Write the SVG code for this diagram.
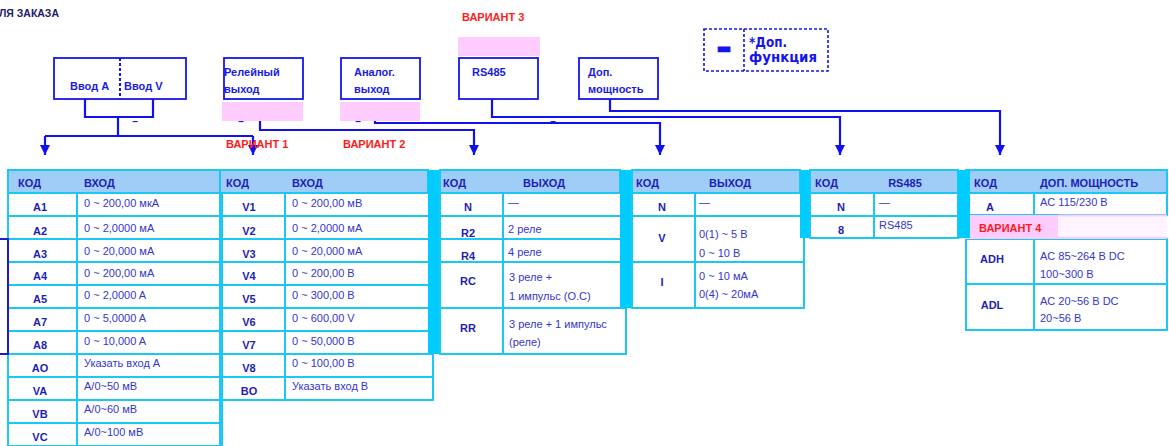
<svg xmlns="http://www.w3.org/2000/svg" width="1169" height="446" viewBox="0 0 1169 446">
<defs>
<marker id="arr" viewBox="0 0 10 10" refX="10" refY="5" markerWidth="10" markerHeight="10" orient="auto" markerUnits="userSpaceOnUse"><path d="M0,0 L10,5 L0,10 z" fill="#1010F0"/></marker>
<style>
.box{fill:none;stroke:#1414F0;stroke-width:1.8}
.dbox{fill:none;stroke:#1414F0;stroke-width:1.6;stroke-dasharray:3 2}
.lbl{font-family:"Liberation Sans",Arial,sans-serif;font-size:11px;font-weight:bold;fill:#1A1AE8}
.var{font-family:"Liberation Sans",Arial,sans-serif;font-size:11px;font-weight:bold;fill:#FF1A1A}
.pink{fill:#FFCCFF}
.conn{fill:none;stroke:#1010F0;stroke-width:2.2}
.cell{fill:#fff;stroke:#19C8F5;stroke-width:2}
.hdr{fill:#A0CCF8;stroke:#19C8F5;stroke-width:2}
.bar{fill:#00CCFF}
.ht{font-family:"Liberation Sans",Arial,sans-serif;font-size:11px;font-weight:bold;fill:#1E1EB4}
.code{font-family:"Liberation Sans",Arial,sans-serif;font-size:11px;font-weight:bold;fill:#1E1EB4;text-anchor:middle}
.val{font-family:"Liberation Sans",Arial,sans-serif;font-size:11px;fill:#3535D0}
.dash{font-family:"Liberation Sans",Arial,sans-serif;font-size:10px;font-weight:bold;fill:#1A1AE8;text-anchor:middle}
</style>
</defs>
<rect width="1169" height="446" fill="#fff"/>
<text x="-1" y="17" font-family="Liberation Sans, Arial, sans-serif" font-size="11" font-weight="bold" fill="#20206A" textLength="60" lengthAdjust="spacingAndGlyphs">ЛЯ ЗАКАЗА</text>

<g id="node-input">
<rect class="box" x="54" y="58" width="132" height="41"/>
<line x1="120" y1="58" x2="120" y2="99" stroke="#1414F0" stroke-width="2" stroke-dasharray="3 2"/>
<text class="lbl" x="70" y="90">Ввод A</text>
<text class="lbl" x="124" y="90">Ввод V</text>
</g>
<g id="node-relay">
<rect class="box" x="224" y="58" width="79" height="41"/>
<text class="lbl" x="224" y="76">Релейный</text>
<text class="lbl" x="224" y="93">выход</text>
<rect class="pink" x="222" y="102" width="81" height="19"/>
</g>
<g id="node-analog">
<rect class="box" x="341" y="58" width="79" height="41"/>
<text class="lbl" x="354" y="76">Аналог.</text>
<text class="lbl" x="354" y="93">выход</text>
<rect class="pink" x="340" y="102" width="80" height="19"/>
</g>
<g id="node-rs485">
<text class="var" x="462" y="21">ВАРИАНТ 3</text>
<rect class="pink" x="458" y="37" width="82" height="19"/>
<rect class="box" x="459" y="58" width="79" height="41"/>
<text class="lbl" x="472" y="76">RS485</text>
</g>
<g id="node-power">
<rect class="box" x="579" y="58" width="79" height="41"/>
<text class="lbl" x="588" y="76">Доп.</text>
<text class="lbl" x="588" y="93">мощность</text>
</g>
<g id="node-legend">
<rect class="dbox" x="704" y="29" width="124" height="42"/>
<line x1="744" y1="29" x2="744" y2="71" stroke="#1414F0" stroke-width="1.6" stroke-dasharray="3 2"/>
<text x="724" y="57" text-anchor="middle" font-family="DejaVu Sans, sans-serif" font-size="26" font-weight="bold" fill="#1414F0" stroke="#1414F0" stroke-width="2.5">–</text>
<text x="749" y="47" font-family="DejaVu Sans, sans-serif" font-size="14" font-weight="bold" fill="#1414F0" textLength="38" lengthAdjust="spacingAndGlyphs">*Доп.</text>
<text x="749" y="62" font-family="DejaVu Sans, sans-serif" font-size="14" font-weight="bold" fill="#1414F0" textLength="68" lengthAdjust="spacingAndGlyphs">функция</text>
</g>

<g id="connectors">
<path class="conn" d="M85,99 V117 H153 V99"/>
<path class="conn" d="M118,117 V136"/>
<path class="conn" d="M45,136 H253"/>
<path class="conn" d="M45,136 V155" marker-end="url(#arr)"/>
<path class="conn" d="M253,136 V155" marker-end="url(#arr)"/>
<path class="conn" d="M260,121 V130 H474 V155" marker-end="url(#arr)"/>
<path class="conn" d="M375,121 V123 H660 V155" marker-end="url(#arr)"/>
<path class="conn" d="M492,99 V117 H840 V155" marker-end="url(#arr)"/>
<path class="conn" d="M610,99 V111 H1000 V155" stroke-width="3" marker-end="url(#arr)"/>
</g>
<text class="dash" x="135" y="125">–</text>
<text class="dash" x="241" y="125">–</text>
<text class="dash" x="358" y="125">–</text>
<text class="dash" x="553" y="125">–</text>
<text class="var" x="226" y="148">ВАРИАНТ 1</text>
<text class="var" x="343" y="148">ВАРИАНТ 2</text>

<g id="table-input-a">
<rect class="hdr" x="8" y="170" width="212" height="23"/>
<text class="ht" x="18" y="187">КОД</text>
<text class="ht" x="84" y="187">ВХОД</text>
<rect class="cell" x="8" y="193" width="69" height="23"/><rect class="cell" x="77" y="193" width="143" height="23"/>
<rect class="cell" x="8" y="216" width="69" height="23"/><rect class="cell" x="77" y="216" width="143" height="23"/>
<rect class="cell" x="8" y="239" width="69" height="23"/><rect class="cell" x="77" y="239" width="143" height="23"/>
<rect class="cell" x="8" y="262" width="69" height="23"/><rect class="cell" x="77" y="262" width="143" height="23"/>
<rect class="cell" x="8" y="285" width="69" height="23"/><rect class="cell" x="77" y="285" width="143" height="23"/>
<rect class="cell" x="8" y="308" width="69" height="23"/><rect class="cell" x="77" y="308" width="143" height="23"/>
<rect class="cell" x="8" y="331" width="69" height="23"/><rect class="cell" x="77" y="331" width="143" height="23"/>
<rect class="cell" x="8" y="354" width="69" height="23"/><rect class="cell" x="77" y="354" width="143" height="23"/>
<rect class="cell" x="8" y="377" width="69" height="23"/><rect class="cell" x="77" y="377" width="143" height="23"/>
<rect class="cell" x="8" y="400" width="69" height="23"/><rect class="cell" x="77" y="400" width="143" height="23"/>
<rect class="cell" x="8" y="423" width="69" height="23"/><rect class="cell" x="77" y="423" width="143" height="23"/>
<text class="code" x="40" y="211">A1</text><text class="val" x="84" y="207">0 ~ 200,00 мкА</text>
<text class="code" x="40" y="235">A2</text><text class="val" x="84" y="232">0 ~ 2,0000 мА</text>
<text class="code" x="40" y="258">A3</text><text class="val" x="84" y="255">0 ~ 20,000 мА</text>
<text class="code" x="40" y="280">A4</text><text class="val" x="84" y="277">0 ~ 200,00 мА</text>
<text class="code" x="40" y="303">A5</text><text class="val" x="84" y="299">0 ~ 2,0000 A</text>
<text class="code" x="40" y="326">A7</text><text class="val" x="84" y="322">0 ~ 5,0000 A</text>
<text class="code" x="40" y="349">A8</text><text class="val" x="84" y="345">0 ~ 10,000 A</text>
<text class="code" x="40" y="372">AO</text><text class="val" x="84" y="367">Указать вход A</text>
<text class="code" x="40" y="395">VA</text><text class="val" x="84" y="390">A/0~50 мВ</text>
<text class="code" x="40" y="418">VB</text><text class="val" x="84" y="413">A/0~60 мВ</text>
<text class="code" x="40" y="441">VC</text><text class="val" x="84" y="436">A/0~100 мВ</text>
<path d="M0,239 H8 V354 H0" fill="none" stroke="#1A1AD0" stroke-width="2"/>
</g>

<g id="table-input-v">
<rect class="hdr" x="220" y="170" width="208" height="23"/>
<text class="ht" x="226" y="187">КОД</text>
<text class="ht" x="292" y="187">ВХОД</text>
<rect class="cell" x="220" y="193" width="65" height="23"/><rect class="cell" x="285" y="193" width="148" height="23"/>
<rect class="cell" x="220" y="216" width="65" height="23"/><rect class="cell" x="285" y="216" width="148" height="23"/>
<rect class="cell" x="220" y="239" width="65" height="23"/><rect class="cell" x="285" y="239" width="148" height="23"/>
<rect class="cell" x="220" y="262" width="65" height="23"/><rect class="cell" x="285" y="262" width="148" height="23"/>
<rect class="cell" x="220" y="285" width="65" height="23"/><rect class="cell" x="285" y="285" width="148" height="23"/>
<rect class="cell" x="220" y="308" width="65" height="23"/><rect class="cell" x="285" y="308" width="148" height="23"/>
<rect class="cell" x="220" y="331" width="65" height="23"/><rect class="cell" x="285" y="331" width="148" height="23"/>
<rect class="cell" x="220" y="354" width="65" height="23"/><rect class="cell" x="285" y="354" width="148" height="23"/>
<rect class="cell" x="220" y="377" width="65" height="23"/><rect class="cell" x="285" y="377" width="148" height="23"/>
<line x1="221.5" y1="193" x2="221.5" y2="446" stroke="#19C8F5" stroke-width="3"/>
<text class="code" x="249" y="211">V1</text><text class="val" x="292" y="207">0 ~ 200,00 мВ</text>
<text class="code" x="249" y="235">V2</text><text class="val" x="292" y="232">0 ~ 2,0000 мА</text>
<text class="code" x="249" y="258">V3</text><text class="val" x="292" y="255">0 ~ 20,000 мА</text>
<text class="code" x="249" y="280">V4</text><text class="val" x="292" y="277">0 ~ 200,00 В</text>
<text class="code" x="249" y="303">V5</text><text class="val" x="292" y="299">0 ~ 300,00 В</text>
<text class="code" x="249" y="326">V6</text><text class="val" x="292" y="322">0 ~ 600,00 V</text>
<text class="code" x="249" y="349">V7</text><text class="val" x="292" y="345">0 ~ 50,000 В</text>
<text class="code" x="249" y="372">V8</text><text class="val" x="292" y="367">0 ~ 100,00 В</text>
<text class="code" x="249" y="395">BO</text><text class="val" x="292" y="390">Указать вход В</text>
<rect class="bar" x="428" y="170" width="12" height="184"/>
</g>

<g id="table-relay">
<rect class="hdr" x="440" y="170" width="180" height="23"/>
<text class="ht" x="443" y="187">КОД</text>
<text class="ht" x="544" y="187" text-anchor="middle">ВЫХОД</text>
<rect class="cell" x="440" y="193" width="63" height="23"/><rect class="cell" x="503" y="193" width="123" height="23"/>
<rect class="cell" x="440" y="216" width="63" height="23"/><rect class="cell" x="503" y="216" width="123" height="23"/>
<rect class="cell" x="440" y="239" width="63" height="23"/><rect class="cell" x="503" y="239" width="123" height="23"/>
<rect class="cell" x="440" y="262" width="63" height="46"/><rect class="cell" x="503" y="262" width="123" height="46"/>
<rect class="cell" x="440" y="308" width="63" height="46"/><rect class="cell" x="503" y="308" width="123" height="46"/>
<text class="code" x="468" y="211">N</text><text class="val" x="508" y="206">—</text>
<text class="code" x="468" y="237">R2</text><text class="val" x="508" y="233">2 реле</text>
<text class="code" x="468" y="260">R4</text><text class="val" x="508" y="256">4 реле</text>
<text class="code" x="468" y="285">RC</text><text class="val" x="509" y="281">3 реле +</text><text class="val" x="509" y="300">1 импульс (О.С)</text>
<text class="code" x="468" y="332">RR</text><text class="val" x="509" y="328">3 реле + 1 импульс</text><text class="val" x="509" y="346">(реле)</text>
<rect class="bar" x="620" y="170" width="12" height="138"/>
</g>

<g id="table-analog">
<rect class="hdr" x="632" y="170" width="168" height="23"/>
<text class="ht" x="636" y="187">КОД</text>
<text class="ht" x="730" y="187" text-anchor="middle">ВЫХОД</text>
<rect class="cell" x="632" y="193" width="63" height="23"/><rect class="cell" x="695" y="193" width="109" height="23"/>
<rect class="cell" x="632" y="216" width="63" height="46"/><rect class="cell" x="695" y="216" width="109" height="46"/>
<rect class="cell" x="632" y="262" width="63" height="46"/><rect class="cell" x="695" y="262" width="109" height="46"/>
<text class="code" x="662" y="211">N</text><text class="val" x="699" y="206">—</text>
<text class="code" x="662" y="242">V</text><text class="val" x="699" y="238">0(1) ~ 5 В</text><text class="val" x="699" y="257">0 ~ 10 В</text>
<text class="code" x="662" y="286">I</text><text class="val" x="699" y="280">0 ~ 10 мА</text><text class="val" x="699" y="298">0(4) ~ 20мА</text>
<rect class="bar" x="800" y="170" width="10" height="68"/>
</g>

<g id="table-rs485">
<rect class="hdr" x="810" y="170" width="148" height="23"/>
<text class="ht" x="815" y="187">КОД</text>
<text class="ht" x="905" y="187" text-anchor="middle">RS485</text>
<rect class="cell" x="810" y="193" width="64" height="23"/><rect class="cell" x="874" y="193" width="84" height="23"/>
<rect class="cell" x="810" y="216" width="64" height="22"/><rect class="cell" x="874" y="216" width="84" height="22"/>
<text class="code" x="841" y="211">N</text><text class="val" x="879" y="206">—</text>
<text class="code" x="841" y="234">8</text><text class="val" x="879" y="229">RS485</text>
</g>

<g id="table-power">
<rect class="hdr" x="966" y="170" width="201" height="23"/>
<text class="ht" x="974" y="187">КОД</text>
<text class="ht" x="1040" y="187">ДОП. МОЩНОСТЬ</text>
<rect class="cell" x="966" y="193" width="68" height="22"/><rect class="cell" x="1034" y="193" width="133" height="22"/>
<rect class="cell" x="966" y="239" width="68" height="45"/><rect class="cell" x="1034" y="239" width="133" height="45"/>
<rect class="cell" x="966" y="284" width="68" height="46"/><rect class="cell" x="1034" y="284" width="133" height="46"/>
<rect x="1058" y="215" width="109" height="24" fill="#FFF4FF"/>
<line x1="1058" y1="215.5" x2="1167" y2="215.5" stroke="#FFCCFF" stroke-width="2"/>
<line x1="1058" y1="238" x2="1167" y2="238" stroke="#FFCCFF" stroke-width="2"/>
<rect class="pink" x="959" y="215" width="99" height="24"/>
<text class="code" x="990" y="211">A</text><text class="val" x="1040" y="206">AC 115/230 В</text>
<text class="var" x="979" y="232">ВАРИАНТ 4</text>
<text class="code" x="992" y="263">ADH</text><text class="val" x="1040" y="260">AC 85~264 В DC</text><text class="val" x="1040" y="278">100~300 В</text>
<text class="code" x="992" y="309">ADL</text><text class="val" x="1040" y="305">AC 20~56 В DC</text><text class="val" x="1040" y="322">20~56 В</text>
</g>
<rect class="bar" x="958" y="170" width="12" height="68"/>
</svg>
